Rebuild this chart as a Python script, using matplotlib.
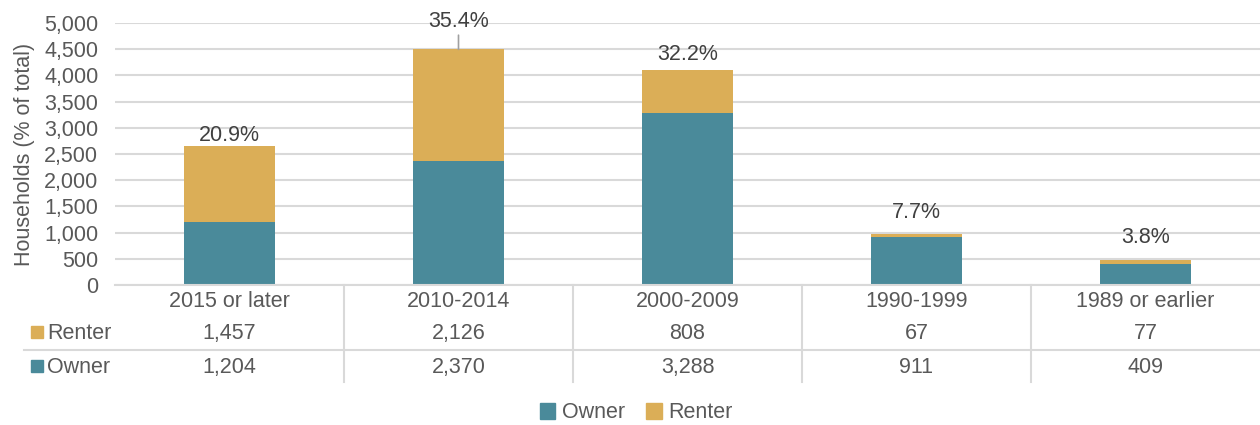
import matplotlib.pyplot as plt
from matplotlib.patches import Rectangle
import matplotlib.transforms as mtransforms

categories = ["2015 or later", "2010-2014", "2000-2009", "1990-1999", "1989 or earlier"]
owner = [1204, 2370, 3288, 911, 409]
renter = [1457, 2126, 808, 67, 77]
share_labels = ["20.9%", "35.4%", "32.2%", "7.7%", "3.8%"]
yticks = list(range(0, 5001, 500))

OWNER_C = "#4A8A9A"
RENTER_C = "#DBAE57"
GRID_C = "#D9D9D9"
TEXT_C = "#595959"
FS = 15.5

plt.rcParams["font.family"] = ["Liberation Sans", "DejaVu Sans"]

W, H = 1260, 425
fig = plt.figure(figsize=(W / 100, H / 100), dpi=100)
ax = fig.add_axes([115 / W, 1 - 285 / H, 1 - 115 / W, (285 - 23) / H])

x = list(range(len(categories)))
ax.bar(x, owner, width=0.4, color=OWNER_C, zorder=3)
ax.bar(x, renter, width=0.4, bottom=owner, color=RENTER_C, zorder=3)

ax.set_xlim(-0.5, len(categories) - 0.5)
ax.set_ylim(0, 5000)
ax.set_yticks(yticks)
ax.set_yticklabels([f"{v:,}" for v in yticks], fontsize=FS, color=TEXT_C)
ax.set_xticks([])
ax.tick_params(axis="y", length=0, pad=12)
for s in ax.spines.values():
    s.set_visible(False)
ax.grid(axis="y", color=GRID_C, lw=1.5, zorder=0)
ax.set_ylabel("Households (% of total)", fontsize=FS, color=TEXT_C, labelpad=2)
ax.yaxis.set_label_coords(-20 / (W - 115) * 4.0, 0.5)

# share labels above the stacks
pad_px = [0, 0, 5, 11, 12]
for i, lab in enumerate(share_labels):
    total = owner[i] + renter[i]
    if i == 1:
        ax.annotate(lab, xy=(i, total), xytext=(0, 17), textcoords="offset pixels",
                    ha="center", va="bottom", fontsize=FS, color="#404040",
                    arrowprops=dict(arrowstyle="-", color="#A0A0A0", lw=1.2,
                                    shrinkA=0, shrinkB=0))
    else:
        ax.annotate(lab, xy=(i, total), xytext=(0, pad_px[i]), textcoords="offset pixels",
                    ha="center", va="bottom", fontsize=FS, color="#404040")

# data table under the axis
trans = mtransforms.blended_transform_factory(ax.transData, fig.transFigure)
fy = lambda py: 1 - py / H
for i, c in enumerate(categories):
    ax.text(i, fy(307), c, transform=trans, ha="center", va="baseline",
            fontsize=FS, color=TEXT_C, clip_on=False)
    ax.text(i, fy(339), f"{renter[i]:,}", transform=trans, ha="center", va="baseline",
            fontsize=FS, color=TEXT_C, clip_on=False)
    ax.text(i, fy(373), f"{owner[i]:,}", transform=trans, ha="center", va="baseline",
            fontsize=FS, color=TEXT_C, clip_on=False)
for b in range(1, len(categories)):
    ax.plot([b - 0.5, b - 0.5], [fy(285), fy(382)], transform=trans,
            color=GRID_C, lw=1.5, clip_on=False)
fig.add_artist(plt.Line2D([24 / W, 1], [fy(350), fy(350)], color=GRID_C, lw=1.5))
fig.add_artist(plt.Line2D([115 / W, 1], [fy(285), fy(285)], color=GRID_C, lw=1.5))

for row_y, name, col in [(339, "Renter", RENTER_C), (373, "Owner", OWNER_C)]:
    fig.add_artist(Rectangle((31 / W, fy(row_y - 1)), 12 / W, 12 / H,
                             color=col, transform=fig.transFigure))
    fig.text(47 / W, fy(row_y), name, ha="left", va="baseline", fontsize=FS, color=TEXT_C)

# bottom legend
handles = [Rectangle((0, 0), 1, 1, color=OWNER_C), Rectangle((0, 0), 1, 1, color=RENTER_C)]
fig.legend(handles, ["Owner", "Renter"], loc="center", bbox_to_anchor=(0.505, fy(413)),
           ncol=2, frameon=False, fontsize=FS, labelcolor=TEXT_C,
           handlelength=0.7, handleheight=0.7, handletextpad=0.3, columnspacing=1.0)

fig.savefig("out.png", dpi=100)
